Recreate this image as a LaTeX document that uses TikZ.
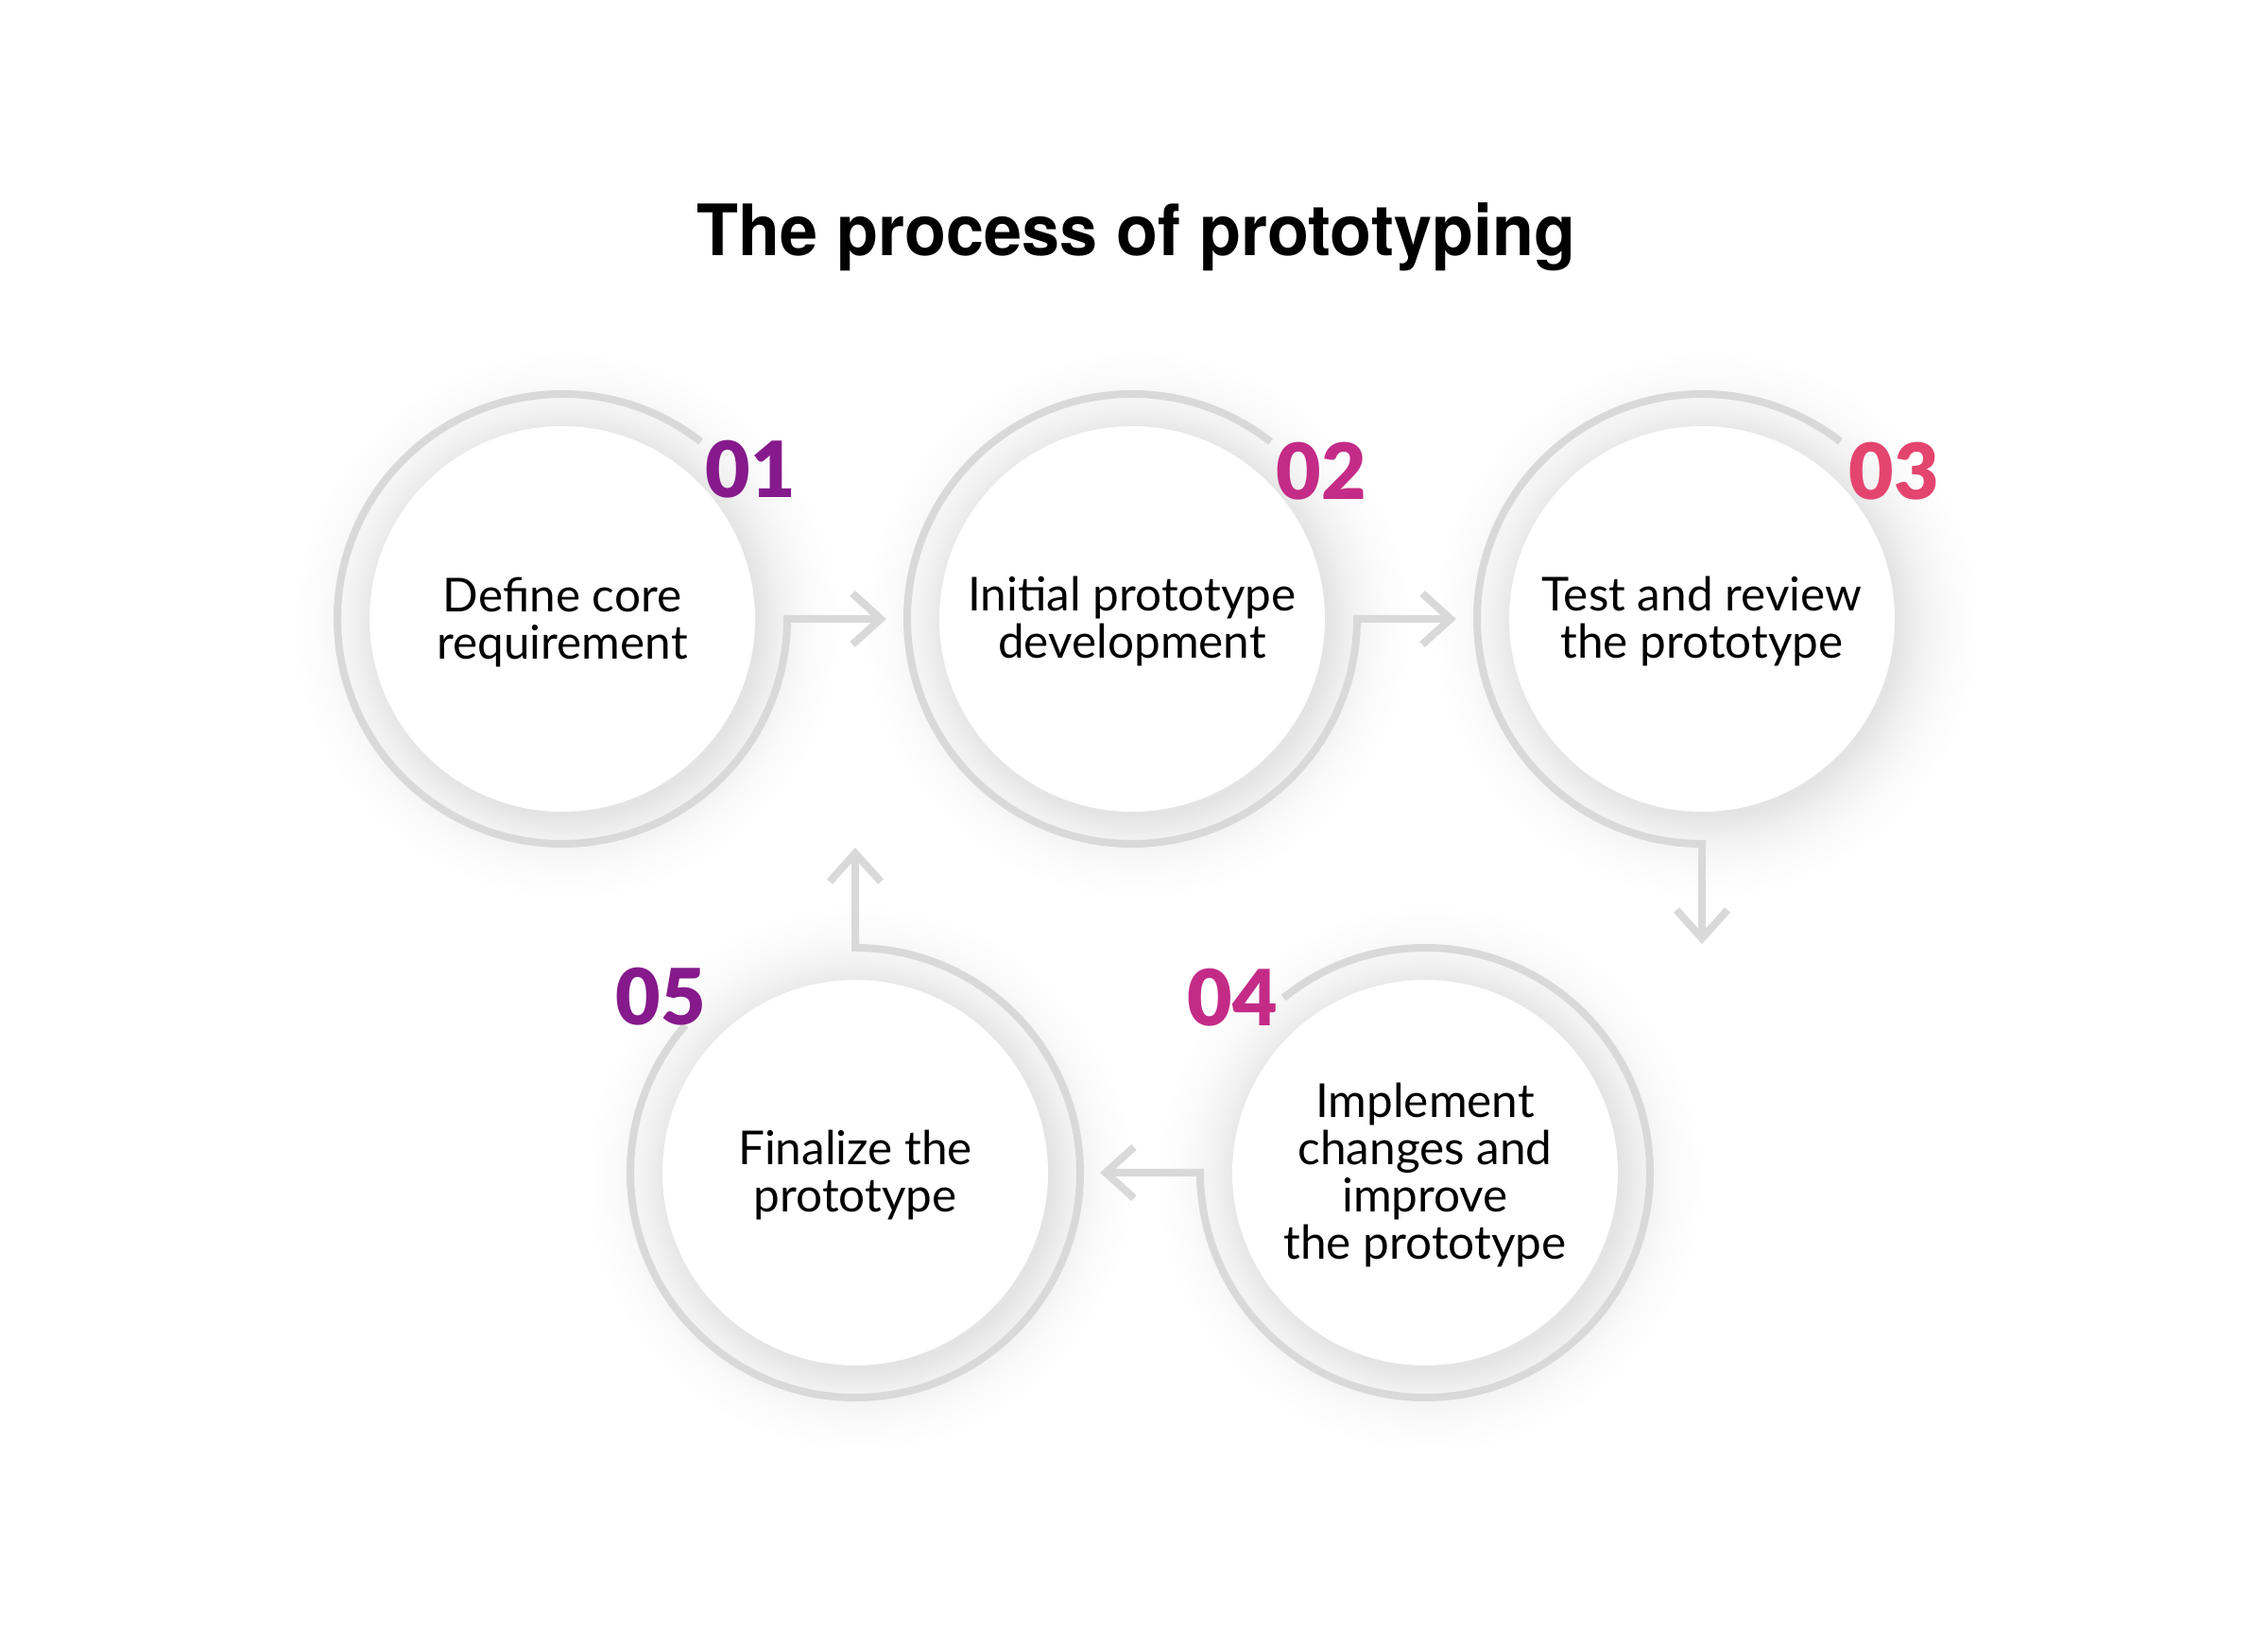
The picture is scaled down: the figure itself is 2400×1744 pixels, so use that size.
\documentclass[tikz,border=0pt]{standalone}
\usepackage{fontspec}
\usepackage{graphicx}
\setmainfont{Lato}
\newfontfamily\titlefont{TeX Gyre Heros}
\newfontfamily\numfont{Lato Black}
\usetikzlibrary{arrows.meta}
\definecolor{ringgray}{HTML}{D9D9D9}
\definecolor{numpurple}{HTML}{861A8C}
\definecolor{nummagenta}{HTML}{C32B87}
\definecolor{numpink}{HTML}{E4456F}
\definecolor{shadowa}{HTML}{E4E4E4}
\definecolor{shadowb}{HTML}{F1F1F1}
\definecolor{shadowc}{HTML}{FAFAFA}
\pgfdeclareradialshading{discshadow}{\pgfpoint{0bp}{0bp}}{color(0bp)=(shadowa); color(17.4bp)=(shadowa); color(19.5bp)=(shadowb); color(22bp)=(shadowc); color(25bp)=(white)}
\tikzset{
  ring/.style={draw=ringgray, line width=8pt, line join=miter,
    -{Straight Barb[length=30pt,width=54pt]}},
  steptext/.style={align=center, text=black, inner sep=0pt,
    font=\fontsize{49.5}{50}\selectfont},
  stepnum/.style={inner sep=0pt, font=\fontsize{82}{82}\selectfont\numfont},
  titletext/.style={inner sep=0pt, anchor=base,
    font=\fontsize{75}{80}\selectfont\titlefont\bfseries}
}
\begin{document}
\begin{tikzpicture}[x=1pt,y=1pt]
\useasboundingbox (0,0) rectangle (2400,1744);
\fill[white] (0,0) rectangle (2400,1744);

\coordinate (c1) at (595,1089);
\coordinate (c2) at (1198,1089);
\coordinate (c3) at (1801,1089);
\coordinate (c4) at (1508,503);
\coordinate (c5) at (905,503);

\coordinate (t1) at (938,1089);
\coordinate (t2) at (1541,1089);
\coordinate (t3) at (1801,745);
\coordinate (t4) at (1164,503);
\coordinate (t5) at (905,847);

% shadows
\foreach \c in {c1,c2,c3,c4,c5}
  \shade[shading=discshadow] ([shift={(5,-6)}]\c) circle[radius=290pt];

% rings with connectors
\draw[ring] (c1) ++(52:238pt) arc[start angle=52, end angle=360, radius=238pt] -- (t1);
\draw[ring] (c2) ++(52:238pt) arc[start angle=52, end angle=360, radius=238pt] -- (t2);
\draw[ring] (c3) ++(52:238pt) arc[start angle=52, end angle=270, radius=238pt] -- (t3);
\draw[ring] (c4) ++(129:238pt) arc[start angle=129, end angle=-180, radius=238pt] -- (t4);
\draw[ring] (c5) ++(139:238pt) arc[start angle=139, end angle=450, radius=238pt] -- (t5);

% white discs
\foreach \c in {c1,c2,c3,c4,c5}
  \fill[white] (\c) circle[radius=204pt];

% texts
\node[steptext] (s1) at ([yshift=-4]c1) {Define core\\requirement};
\node[steptext] (s2) at ([yshift=-3]c2) {Initial prototype\\development};
\node[steptext] (s3) at ([yshift=-3]c3) {Test and review\\the prototype};
\node[steptext] (s4) at ([yshift=-3]c4) {Implement\\changes and\\improve\\the prototype};
\node[steptext] (s5) at ([yshift=-3]c5) {Finalize the\\prototype};

% numbers
\node[stepnum, text=numpurple]  (n1) at ([shift={(199,158)}]c1) {01};
\node[stepnum, text=nummagenta] (n2) at ([shift={(200,156)}]c2) {02};
\node[stepnum, text=numpink]    (n3) at ([shift={(203,156)}]c3) {03};
\node[stepnum, text=nummagenta] (n4) at ([shift={(-204,185)}]c4) {04};
\node[stepnum, text=numpurple]  (n5) at ([shift={(-206,186)}]c5) {05};

% title
\node[titletext] (title) at (1202,1473) {\scalebox{0.96}[1]{The process of prototyping}};
\end{tikzpicture}
\end{document}
